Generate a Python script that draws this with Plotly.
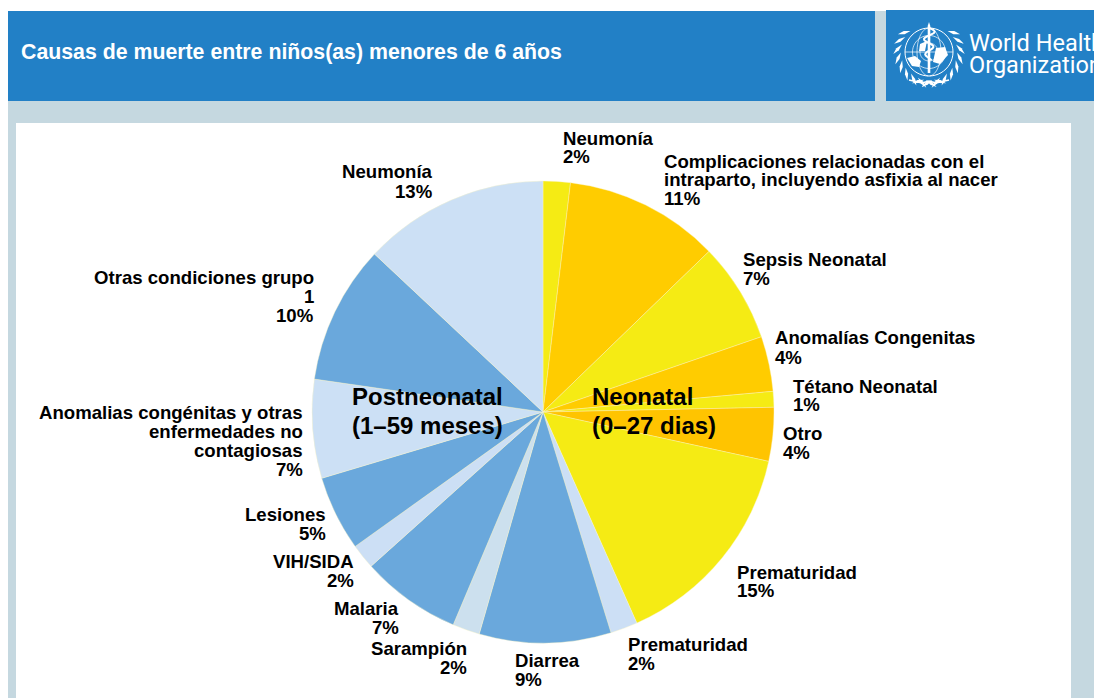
import math
import plotly.graph_objects as go

W, H = 1094, 698

# ---- data ----
causes = ["Neumonía", "Complicaciones relacionadas con el intraparto, incluyendo asfixia al nacer",
          "Sepsis Neonatal", "Anomalías Congenitas", "Tétano Neonatal", "Otro", "Prematuridad",
          "Prematuridad (postneonatal)", "Diarrea", "Sarampión", "Malaria", "VIH/SIDA", "Lesiones",
          "Anomalias congénitas y otras enfermedades no contagiosas", "Otras condiciones grupo 1",
          "Neumonía (postneonatal)"]
shares = [1.9, 10.85, 6.95, 3.85, 1.1, 3.75, 14.9, 1.9, 9.2, 1.9, 7.0, 1.75, 5.25, 6.9, 9.7, 13.0]
slice_colors = ["#F5EB14", "#FFCC00", "#F5EB14", "#FFCC00", "#F5EB14", "#FFC400", "#F5EB14",
                "#CCDFF5", "#6AA8DC", "#CCE0EE", "#6AA8DC", "#CCDFF5", "#6AA8DC",
                "#CCE0F5", "#6AA8DC", "#CCE0F5"]
title_text = "Causas de muerte entre niños(as) menores de 6 años"

# label lines: text, anchor x, centre y, side
label_lines = [
    ("Neumonía", 563, 138, "left"), ("2%", 563, 156, "left"),
    ("Complicaciones relacionadas con el", 664, 161, "left"),
    ("intraparto, incluyendo asfixia al nacer", 664, 180, "left"), ("11%", 664, 198, "left"),
    ("Sepsis Neonatal", 743, 259, "left"), ("7%", 743, 278, "left"),
    ("Anomalías Congenitas", 775, 338, "left"), ("4%", 775, 357, "left"),
    ("Tétano Neonatal", 793, 386, "left"), ("1%", 793, 405, "left"),
    ("Otro", 783, 433, "left"), ("4%", 783, 452, "left"),
    ("Prematuridad", 737, 572, "left"), ("15%", 737, 590, "left"),
    ("Prematuridad", 628, 644, "left"), ("2%", 628, 663, "left"),
    ("Diarrea", 515, 660, "left"), ("9%", 515, 679, "left"),
    ("Sarampión", 467, 648, "right"), ("2%", 467, 667, "right"),
    ("Malaria", 399, 608, "right"), ("7%", 399, 627, "right"),
    ("VIH/SIDA", 354, 561, "right"), ("2%", 354, 580, "right"),
    ("Lesiones", 326, 514, "right"), ("5%", 326, 533, "right"),
    ("Anomalias congénitas y otras", 303, 412, "right"), ("enfermedades no", 303, 431, "right"),
    ("contagiosas", 303, 450, "right"), ("7%", 303, 469, "right"),
    ("Otras condiciones grupo", 314, 277, "right"), ("1", 314, 296, "right"), ("10%", 314, 315, "right"),
    ("Neumonía", 433, 172, "right"), ("13%", 433, 191, "right"),
]
group_lines = [
    ("Postneonatal", 352, 396), ("(1–59 meses)", 352, 425),
    ("Neonatal", 592, 396), ("(0–27 dias)", 592, 425),
]

# ---- layout helpers (pixel position -> paper fraction) ----
def fx(x): return x / W
def fy(y): return 1 - y / H

def rect(x0, y0, x1, y1, color):
    return dict(type="rect", xref="paper", yref="paper", x0=fx(x0), x1=fx(x1), y0=fy(y1), y1=fy(y0),
                fillcolor=color, line_width=0, layer="below")

def path_of(points, close=False):
    s = "M " + " L ".join(f"{fx(x):.5f},{fy(y):.5f}" for x, y in points)
    return s + (" Z" if close else "")

def poly(points, fill="white", width=0.0):
    return dict(type="path", xref="paper", yref="paper", path=path_of(points, True), fillcolor=fill,
                line=dict(color="white", width=width), layer="above")

def stroke(points, width=1.0):
    return dict(type="path", xref="paper", yref="paper", path=path_of(points), line=dict(color="white", width=width),
                layer="above")

BG, BLUE = "#C5D8E0", "#2280C6"
shapes = [
    rect(8, 101, W, H, BG), rect(875, 11, 886, 101, BG),
    rect(8, 11, 875, 101, BLUE), rect(886, 10, W, 101, BLUE),
    rect(16, 123, 1071, H, "white"),
]

# WHO-style emblem
ex, ey = 929, 52
def circ(r, n=48):
    return [(ex + r * math.cos(2 * math.pi * i / n), ey + r * math.sin(2 * math.pi * i / n)) for i in range(n + 1)]
for r, wd in ((24, 1.0), (16.5, 0.7), (9, 0.7)):
    shapes.append(stroke(circ(r), wd))
shapes.append(stroke([(ex - 24, ey), (ex + 24, ey)], 0.7))
for sgn in (-1, 1):
    shapes.append(stroke([(ex + sgn * 12 * math.cos(a / 10), ey + 24 * math.sin(a / 10)) for a in range(-15, 16)], 0.7))
    # laurel leaves
    for k in range(10):
        a = math.radians(-38 + k * 16.5)
        r = 31.5
        cx, cy = ex + sgn * r * math.cos(a), ey + r * math.sin(a)
        t2 = (sgn * math.cos(a) * 0.6 - sgn * math.sin(a) * 0.8, math.sin(a) * 0.6 + math.cos(a) * 0.8)
        L, w = 6.5, 1.6
        nx, ny = -t2[1], t2[0]
        shapes.append(poly([(cx - t2[0] * L, cy - t2[1] * L), (cx + nx * w, cy + ny * w),
                            (cx + t2[0] * L, cy + t2[1] * L), (cx - nx * w, cy - ny * w)]))
    shapes.append(stroke([(ex + sgn * 20, ey + 28), (ex + sgn * 7, ey + 31), (ex, ey + 29)], 1.6))
# continents
for blob in ([(907, 58), (915, 56), (921, 61), (919, 67), (912, 66)],
             [(920, 44), (927, 41), (925, 51), (919, 51)],
             [(936, 48), (945, 47), (948, 55), (940, 64), (933, 62)]):
    shapes.append(poly(blob))
# staff and serpent
shapes.append(poly([(ex - 1.3, 26), (ex, 22), (ex + 1.3, 26), (ex + 1.3, 73), (ex - 1.3, 73)]))
shapes.append(stroke([(ex + 6 * math.sin(i / 2.0) * (1 - i / 60), 28 + i * 1.2) for i in range(28)], 2.0))

annotations = []
def add_text(text, x, y, size, anchor="left", color="black", family="Liberation Sans", bold=True):
    annotations.append(dict(text=f"<b>{text}</b>" if bold else text, xref="paper", yref="paper",
                            x=fx(x), y=fy(y), xanchor=anchor, yanchor="middle", showarrow=False,
                            align=anchor, borderpad=0, borderwidth=0,
                            font=dict(family=family, size=size, color=color)))

add_text(title_text, 21, 52, 21.3, color="white")
for t, x, y, side in label_lines:
    add_text(t, x, y, 18.6, side)
for t, x, y in group_lines:
    add_text(t, x, y, 24)
add_text("World Health", 969, 43, 23.5, color="white", family="Roboto", bold=False)
add_text("Organization", 969, 65, 23.5, color="white", family="Roboto", bold=False)

cx, cy, R = 543, 412, 231
fig = go.Figure(go.Pie(
    labels=[f"{i}. {c}" for i, c in enumerate(causes)], values=shares, sort=False, direction="clockwise", rotation=0,
    textinfo="none", showlegend=False,
    marker=dict(colors=slice_colors, line=dict(color="#FBF6C8", width=0.4)),
    domain=dict(x=[fx(cx - R), fx(cx + R)], y=[fy(cy + R), fy(cy - R)]),
))
fig.update_layout(width=W, height=H, margin=dict(l=0, r=0, t=0, b=0), paper_bgcolor="white",
                  shapes=shapes, annotations=annotations)
fig.write_html("out.html", post_script="document.body.style.margin='0';document.body.style.overflow='hidden';",
               config={"displayModeBar": False})
